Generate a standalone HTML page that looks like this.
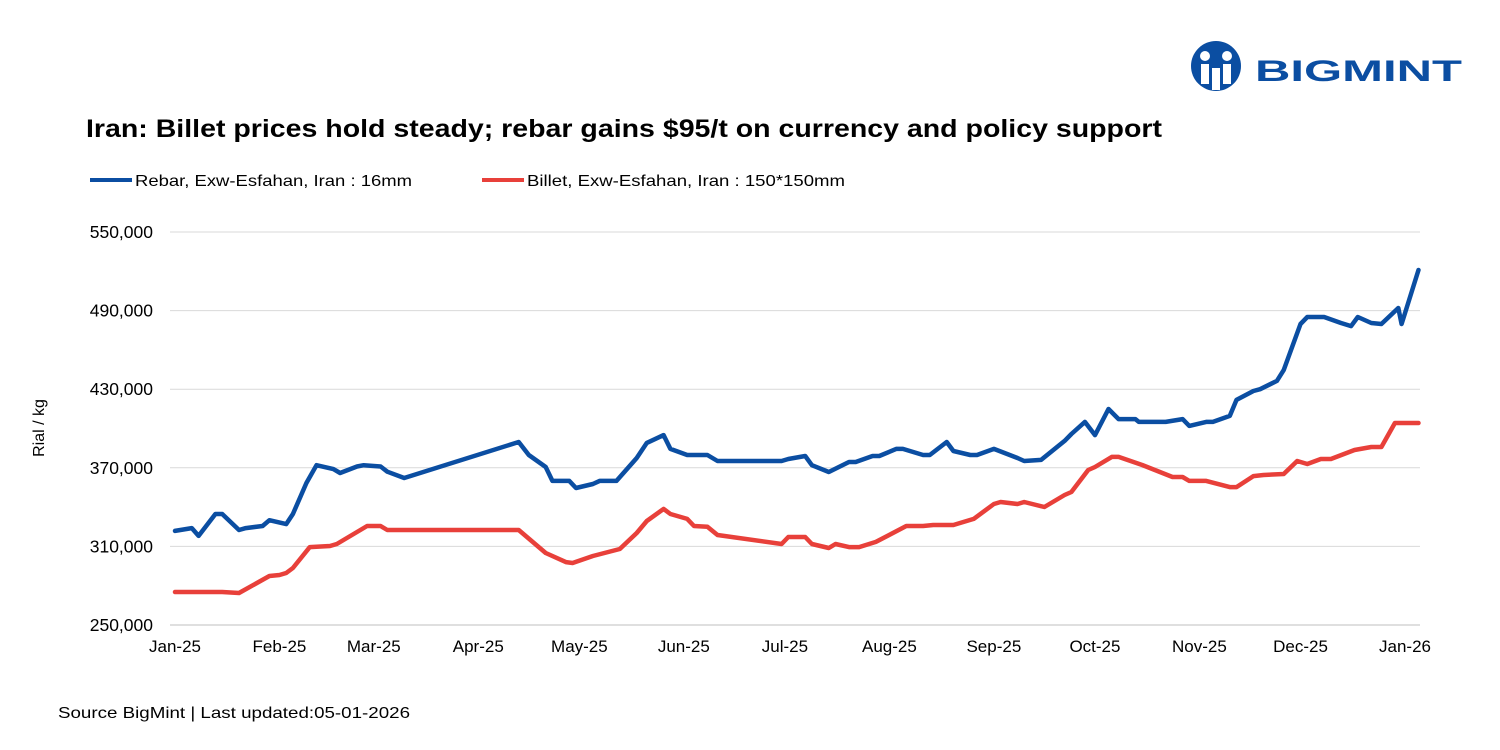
<!DOCTYPE html>
<html><head><meta charset="utf-8"><style>
body{margin:0;background:#fff;width:1500px;height:750px;overflow:hidden;font-family:"Liberation Sans",sans-serif}
svg{display:block}
</style></head><body>
<svg width="1500" height="750" xmlns="http://www.w3.org/2000/svg" id="svg">
<g>
<circle cx="1216" cy="66" r="25" fill="#0b4ea2"/>
<circle cx="1205" cy="56" r="5" fill="#fff"/><circle cx="1227" cy="56" r="5" fill="#fff"/>
<rect x="1201" y="64" width="8" height="20" fill="#fff"/><rect x="1223" y="64" width="8" height="20" fill="#fff"/>
<rect x="1212" y="68" width="8" height="22" fill="#fff"/>
<text x="1255" y="81" font-size="30" font-weight="bold" fill="#0b4ea2" textLength="207" lengthAdjust="spacingAndGlyphs">BIGMINT</text>
</g>
<text x="86" y="137" font-size="25" font-weight="bold" fill="#000" textLength="1076" lengthAdjust="spacingAndGlyphs">Iran: Billet prices hold steady; rebar gains $95/t on currency and policy support</text>
<g><line x1="90" y1="180" x2="132" y2="180" stroke="#0b4ea2" stroke-width="4"/><text x="135" y="186" font-size="16" textLength="277" lengthAdjust="spacingAndGlyphs">Rebar, Exw-Esfahan, Iran : 16mm</text></g>
<g><line x1="482" y1="180" x2="524" y2="180" stroke="#e8403a" stroke-width="4"/><text x="527" y="186" font-size="16" textLength="318" lengthAdjust="spacingAndGlyphs">Billet, Exw-Esfahan, Iran : 150*150mm</text></g>
<text transform="translate(44,428) rotate(-90)" text-anchor="middle" font-size="16">Rial / kg</text>
<g id="grid"></g><g id="xt"></g><g id="lines"></g>
<text x="58" y="718" font-size="16" textLength="352" lengthAdjust="spacingAndGlyphs">Source BigMint | Last updated:05-01-2026</text>
</svg>
<script>
const yTicks=[250000,310000,370000,430000,490000,550000];
const xTickLabels=["Jan-25","Feb-25","Mar-25","Apr-25","May-25","Jun-25","Jul-25","Aug-25","Sep-25","Oct-25","Nov-25","Dec-25","Jan-26"];
const xTickDays=[0,31,59,90,120,151,181,212,243,273,304,334,365];
const rebarDays=[0,5,7,12,14,19,21,26,28,33,35,39,42,47,49,54,56,61,63,68,102,105,110,112,117,119,124,126,131,137,140,145,147,152,158,161,180,182,187,189,194,200,202,207,209,214,216,222,224,229,231,236,238,243,250,252,257,264,266,270,273,277,280,285,286,294,299,301,306,308,313,315,320,322,327,329,334,336,341,346,349,351,355,358,363,364,369];
const rebarValues=[321800,324000,318000,334700,334700,322500,324000,325600,330000,327000,334700,358400,372000,369000,366000,371000,372000,371000,367000,362200,389700,379800,370600,360000,360000,354600,357600,360000,360000,377500,389000,395000,384400,379800,379800,375200,375200,376700,379000,372000,366800,374400,374400,379000,379000,384400,384400,379800,379800,389700,382800,379800,379800,384400,377500,375200,376000,390500,395800,405000,395000,414900,407200,407200,405000,405000,407200,402000,405000,405000,409600,421800,428600,430000,436300,444600,479800,485100,485100,480500,478200,485100,480500,479800,492000,479800,521000];
const billetDays=[0,14,19,28,31,33,35,40,46,48,57,61,63,102,110,116,118,124,132,137,140,145,147,152,154,158,161,180,182,187,189,194,196,200,203,208,217,222,225,231,237,243,245,250,252,258,264,266,271,273,278,280,287,296,299,301,306,313,315,320,323,329,333,336,340,343,350,355,358,362,369];
const billetValues=[275200,275200,274400,287400,288200,289700,293500,309500,310300,311800,325600,325600,322500,322500,305000,298000,297300,302700,308000,320200,329400,338600,334700,331000,325600,325000,318700,311800,317200,317200,311800,308800,311800,309500,309500,313400,325600,325600,326300,326300,331000,342400,343900,342400,343900,340100,349200,351500,368300,370600,378300,378300,372100,363000,363000,360000,360000,355300,355300,363700,364500,365300,375200,372900,376700,376700,383600,385900,385900,404200,404200];
const X0=175,X1=1405,Y0=625,Y1=232;
const xs=d=>X0+(X1-X0)*d/365;
const ys=v=>Y0-(Y0-Y1)*(v-250000)/300000;
const NS="http://www.w3.org/2000/svg";
function mk(t,a,p){const e=document.createElementNS(NS,t);for(const k in a)e.setAttribute(k,a[k]);p.appendChild(e);return e;}
const grid=document.getElementById('grid');
yTicks.forEach(v=>{
 const l=mk('line',{x1:170,x2:1420,y1:ys(v),y2:ys(v),stroke:v===250000?'#bfbfbf':'#d9d9d9','stroke-width':1},grid);
 
 
 const t=mk('text',{x:153,y:ys(v)+6,'text-anchor':'end','font-size':17.5},grid);
 
 
 t.textContent=v.toLocaleString('en-US');
});
const xt=document.getElementById('xt');
xTickLabels.forEach((s,i)=>{
 const t=mk('text',{x:xs(xTickDays[i]),y:652,'text-anchor':'middle','font-size':17},xt);
 
 
 t.textContent=s;
});
const lines=document.getElementById('lines');
function line(days,vals,col,name){
 const d=days.map((x,i)=>(i?'L':'M')+xs(x).toFixed(1)+','+ys(vals[i]).toFixed(1)).join('');
 const p=mk('path',{d:d,fill:'none',stroke:col,'stroke-width':4.5,'stroke-linejoin':'round','stroke-linecap':'round'},lines);
 
 
}
line(billetDays,billetValues,'#e8403a','billet-line');
line(rebarDays,rebarValues,'#0b4ea2','rebar-line');
</script>
</body></html>
